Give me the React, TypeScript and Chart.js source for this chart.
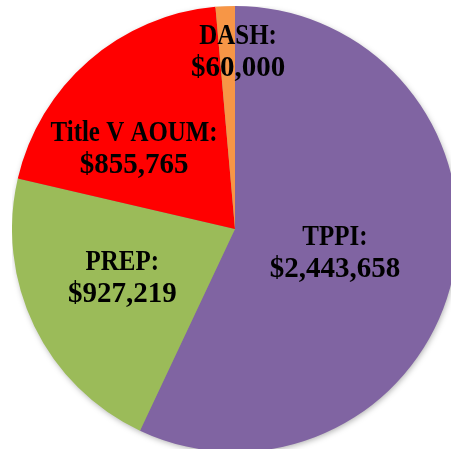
import React, { useEffect, useRef } from "react";
import { Chart, registerables } from "chart.js";

Chart.register(...registerables);

const categories = ["TPPI", "PREP", "Title V AOUM", "DASH"];
const amounts = [2443658, 927219, 855765, 60000];
const colors = ["#8064A2", "#9BBB59", "#FF0000", "#F79646"];

// label placement: fraction of radius and angle shift (degrees) from slice mid-angle
const labelRadius = [0.46, 0.55, 0.58, 0.8];
const labelAngleShift = [0.5, 2.6, -10.3, 3.5];

const fmt = (v: number) => "$" + v.toLocaleString("en-US");

const labelPlugin = {
  id: "sliceLabels",
  beforeDatasetsDraw(chart: any) {
    const meta = chart.getDatasetMeta(0);
    const arc = meta.data[0];
    if (!arc) return;
    const { x, y, outerRadius } = arc.getProps(["x", "y", "outerRadius"], true);
    const ctx = chart.ctx;
    ctx.save();
    ctx.shadowColor = "rgba(0,0,0,0.35)";
    ctx.shadowBlur = 6;
    ctx.shadowOffsetX = 1;
    ctx.shadowOffsetY = 2;
    ctx.fillStyle = "#888";
    ctx.beginPath();
    ctx.arc(x, y, outerRadius - 1, 0, Math.PI * 2);
    ctx.fill();
    ctx.restore();
  },
  afterDatasetsDraw(chart: any) {
    const meta = chart.getDatasetMeta(0);
    const ctx = chart.ctx;
    ctx.save();
    ctx.fillStyle = "#000";
    ctx.textAlign = "center";
    ctx.textBaseline = "alphabetic";
    ctx.font = "bold 29px 'Liberation Serif', serif";
    meta.data.forEach((el: any, i: number) => {
      const p = el.getProps(["x", "y", "startAngle", "endAngle", "outerRadius"], true);
      const mid = (p.startAngle + p.endAngle) / 2 + (labelAngleShift[i] * Math.PI) / 180;
      const r = p.outerRadius * labelRadius[i];
      const cx = p.x + Math.cos(mid) * r;
      const cy = p.y + Math.sin(mid) * r;
      ctx.save();
      ctx.translate(cx, cy - 7);
      ctx.scale(0.86, 1);
      ctx.fillText(categories[i] + ":", 0, 0);
      ctx.restore();
      ctx.fillText(fmt(amounts[i]), cx, cy + 25);
    });
    ctx.restore();
  },
};

export default function App() {
  const ref = useRef<HTMLCanvasElement | null>(null);
  useEffect(() => {
    if (!ref.current) return;
    const chart = new Chart(ref.current, {
      type: "pie",
      data: {
        labels: categories,
        datasets: [
          {
            data: amounts,
            backgroundColor: colors,
            borderWidth: 0,
          },
        ],
      },
      options: {
        responsive: false,
        animation: false,
        devicePixelRatio: 1,
        layout: { padding: 0 },
        plugins: {
          legend: { display: false },
          tooltip: { enabled: false },
        },
      },
      plugins: [labelPlugin],
    });
    return () => chart.destroy();
  }, []);
  return (
    <div
      style={{
        position: "fixed",
        left: 0,
        top: 0,
        width: 451,
        height: 449,
        overflow: "hidden",
        background: "#fff",
      }}
    >
      <canvas
        ref={ref}
        width={446}
        height={446}
        style={{ position: "absolute", left: 12, top: 6, width: 446, height: 446 }}
      />
    </div>
  );
}
